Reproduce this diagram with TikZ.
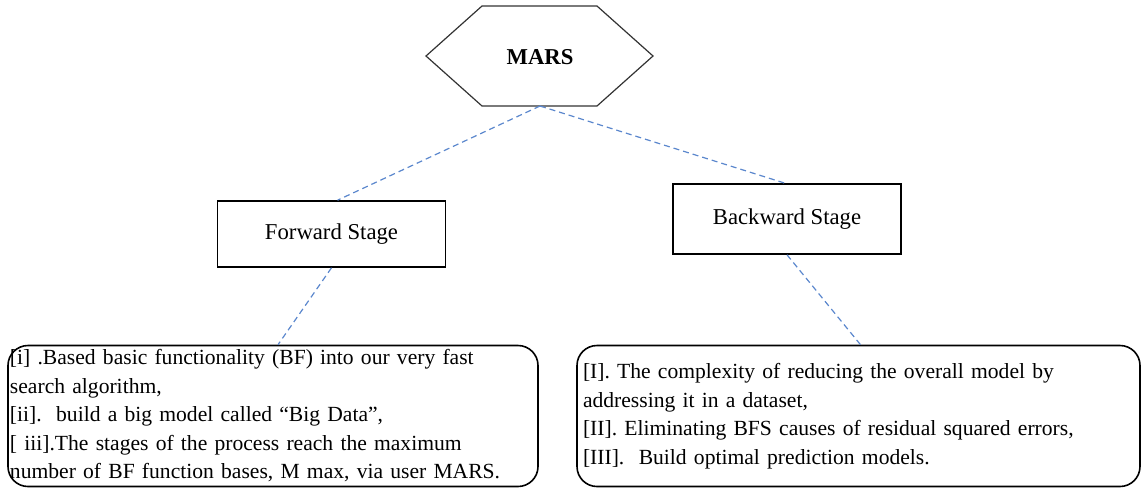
\documentclass[tikz,border=0pt]{standalone}
\usepackage{fontspec}
\setmainfont{Liberation Serif}
\usetikzlibrary{positioning}
\definecolor{linkblue}{RGB}{91,135,205}

\begin{document}
\begin{tikzpicture}[x=.5pt, y=-.5pt,
  txt/.style={font=\fontsize{11.35}{14.25}\selectfont},
  stagebox/.style={draw, line width=.8pt, txt, minimum width=114pt, inner sep=0pt},
  listbox/.style={draw, line width=.8pt, rounded corners=10pt, font=\fontsize{10.8}{14.25}\selectfont, align=left, inner ysep=0pt, minimum height=70.5pt},
  link/.style={draw=linkblue, line width=.6pt, dash pattern=on 3pt off 2pt}]
\useasboundingbox (0,0) rectangle (1141,489);

% hexagon on top
\node[txt] (mars) at (540,57) {\textbf{MARS}};
\draw[line width=.6pt, black!80] (482,6) -- (597,6) -- (653,56) -- (597,106) -- (482,106) -- (426,56) -- cycle;
\coordinate (marsb) at (540,106);

\node[stagebox, minimum height=33pt] (fwd) at (331.5,234) {Forward Stage};
\node[stagebox, minimum height=35pt] (bwd) at (787,219) {Backward Stage};

\node[listbox, inner xsep=1pt, text width=263pt] (fwdlist) at (273,416) {{[i]} .Based basic functionality (BF) into our very fast\\
search algorithm,\\
{[ii]}.\ \ build a big model called “Big Data”,\\
{[ iii]}.The stages of the process reach the maximum\\
number of BF function bases, M max, via user MARS.};
\node[listbox, inner xsep=3pt, text width=275.5pt] (bwdlist) at (858.5,416) {{[I]}. The complexity of reducing the overall model by\\
addressing it in a dataset,\\
{[II]}. Eliminating BFS causes of residual squared errors,\\
{[III]}.\ \ Build optimal prediction models.};

\draw[link] (marsb) -- ([xshift=3pt]fwd.north);
\draw[link] (marsb) -- ([xshift=-1pt]bwd.north);
\draw[link] (fwd.south) -- ([xshift=2.5pt]fwdlist.north);
\draw[link] (bwd.south) -- ([xshift=1pt]bwdlist.north);
\end{tikzpicture}
\end{document}
